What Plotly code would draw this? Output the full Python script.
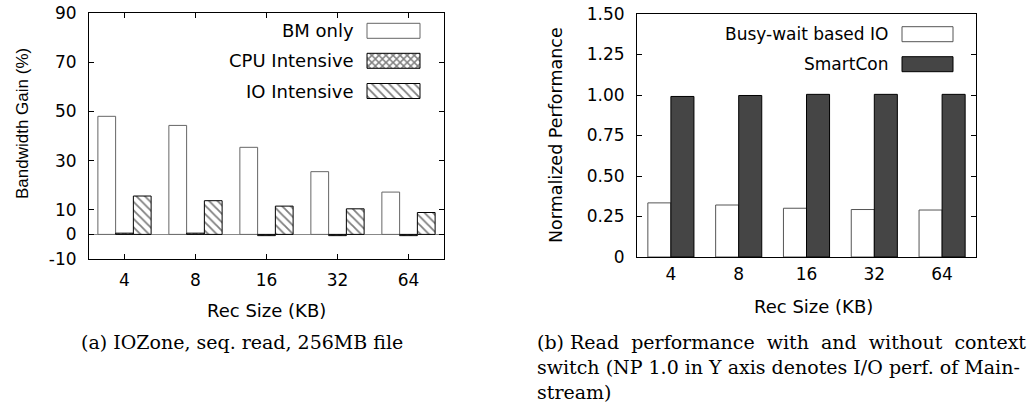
import plotly.graph_objects as go

# ---------------- data ----------------
rec_sizes = ["4", "8", "16", "32", "64"]

bm_only = [48.0, 44.3, 35.4, 25.5, 17.2]
cpu_intensive = [0.5, 0.5, -0.5, -0.5, -0.5]
io_intensive = [15.6, 13.7, 11.5, 10.4, 8.9]

busy_wait = [0.334, 0.321, 0.301, 0.293, 0.290]
smartcon = [0.991, 0.997, 1.004, 1.004, 1.004]

left_yticks = [-10, 0, 10, 30, 50, 70, 90]
left_yticktext = ["-10", "0", "10", "30", "50", "70", "90"]
right_yticks = [0, 0.25, 0.5, 0.75, 1.0, 1.25, 1.5]
right_yticktext = ["0", "0.25", "0.50", "0.75", "1.00", "1.25", "1.50"]

left_legend = ["BM only", "CPU Intensive", "IO Intensive"]
right_legend = ["Busy-wait based IO", "SmartCon"]

caption_a = "(a) IOZone, seq. read, 256MB file"
caption_b = ["(b) Read\u00a0 performance\u00a0 with\u00a0 and\u00a0 without\u00a0 context",
             "switch (NP 1.0 in Y axis denotes I/O perf. of Main-",
             "stream)"]

# ---------------- layout helpers ----------------
W, H = 1034, 406


def px(x):
    return x / W


def py(y):
    return 1 - y / H


SANS = "DejaVu Sans"
SERIF = "DejaVu Serif"

L_X = (89, 444)
L_Y = (13, 259)
R_X = (637, 976)
R_Y = (14, 257)

style_bm = dict(color="white", line=dict(color="#666666", width=1))
style_cpu = dict(color="white", line=dict(color="black", width=1),
                 pattern=dict(shape="x", fgcolor="black", bgcolor="white",
                              size=5, solidity=0.5, fillmode="overlay"))
style_io = dict(color="white", line=dict(color="black", width=1),
                pattern=dict(shape="\\", fgcolor="black", bgcolor="white",
                             size=6, solidity=0.3, fillmode="overlay"))
style_busy = dict(color="white", line=dict(color="#555555", width=1))
style_smart = dict(color="#111111", line=dict(color="black", width=1),
                   pattern=dict(shape=".", fgcolor="white", bgcolor="#111111",
                                size=2, solidity=0.5, fillmode="overlay"))

fig = go.Figure()

# left chart bars
for vals, st, off in [(bm_only, style_bm, -0.375),
                      (cpu_intensive, style_cpu, -0.125),
                      (io_intensive, style_io, 0.125)]:
    fig.add_trace(go.Bar(x=rec_sizes, y=vals, width=0.25, offset=off,
                         marker=st, xaxis="x", yaxis="y", showlegend=False,
                         hoverinfo="skip"))

# right chart bars
for vals, st, off in [(busy_wait, style_busy, -0.34),
                      (smartcon, style_smart, 0.0)]:
    fig.add_trace(go.Bar(x=rec_sizes, y=vals, width=0.34, offset=off,
                         marker=st, xaxis="x2", yaxis="y2", showlegend=False,
                         hoverinfo="skip"))

# legend keys (gnuplot style: text then swatch) drawn on pixel-unit helper axes
left_rows = [30.8, 60.8, 91.0]
for row, st in zip(left_rows, [style_bm, style_cpu, style_io]):
    fig.add_trace(go.Bar(orientation="h", y=[row], x=[53], base=[367], width=15,
                         marker=st, xaxis="x3", yaxis="y3", showlegend=False,
                         hoverinfo="skip"))
right_rows = [34.2, 64.2]
for row, st in zip(right_rows, [style_busy, style_smart]):
    fig.add_trace(go.Bar(orientation="h", y=[row], x=[51], base=[902], width=15,
                         marker=st, xaxis="x4", yaxis="y4", showlegend=False,
                         hoverinfo="skip"))

axis_common = dict(showline=True, linecolor="black", linewidth=1,
                   mirror="allticks", showgrid=False, zeroline=False,
                   automargin=False,
                   tickcolor="black", ticklen=5, tickwidth=1,
                   tickfont=dict(family=SANS, size=17, color="black"))
hidden = dict(visible=False, fixedrange=True, automargin=False)

fig.update_layout(
    template="none",
    width=W, height=H, autosize=False,
    margin=dict(l=0, r=0, t=0, b=0, pad=0),
    paper_bgcolor="white", plot_bgcolor="rgba(0,0,0,0)",
    barmode="group", showlegend=False,
    xaxis=dict(domain=[px(L_X[0]), px(L_X[1])], type="category",
               range=[-0.5, 4.5], ticks="inside", ticklabelstandoff=6,
               anchor="y", **axis_common),
    yaxis=dict(domain=[py(L_Y[1]), py(L_Y[0])], range=[-10, 90],
               tickvals=left_yticks, ticktext=left_yticktext,
               ticks="inside", ticklabelstandoff=8, anchor="x",
               **{**axis_common, "zeroline": True}, zerolinecolor="#888888",
               zerolinewidth=1),
    xaxis2=dict(domain=[px(R_X[0]), px(R_X[1])], type="category",
                range=[-0.5, 4.5], ticks="", ticklabelstandoff=2,
                anchor="y2", **axis_common),
    yaxis2=dict(domain=[py(R_Y[1]), py(R_Y[0])], range=[0, 1.5],
                tickvals=right_yticks, ticktext=right_yticktext,
                ticks="inside", ticklabelstandoff=8, anchor="x2",
                **axis_common),
    xaxis3=dict(domain=[px(L_X[0]), px(L_X[1])], range=list(L_X),
                anchor="y3", **hidden),
    yaxis3=dict(domain=[py(L_Y[1]), py(L_Y[0])], range=[L_Y[1], L_Y[0]],
                anchor="x3", **hidden),
    xaxis4=dict(domain=[px(R_X[0]), px(R_X[1])], range=list(R_X),
                anchor="y4", **hidden),
    yaxis4=dict(domain=[py(R_Y[1]), py(R_Y[0])], range=[R_Y[1], R_Y[0]],
                anchor="x4", **hidden),
)

ann = []


def text(x, y, s, size, family=SANS, xanchor="center", angle=0):
    ann.append(dict(x=px(x), y=py(y), xref="paper", yref="paper", text=s,
                    showarrow=False, xanchor=xanchor, yanchor="middle",
                    textangle=angle, borderpad=0,
                    font=dict(family=family, size=size, color="black")))


# axis titles
text(22, 124, "Bandwidth Gain (%)", 17, family="Liberation Sans", angle=-90)
text(266, 310, "Rec Size (KB)", 18)
text(556, 135, "Normalized Performance", 17.5, angle=-90)
text(813, 306, "Rec Size (KB)", 18)

# legend texts
for row, s in zip(left_rows, left_legend):
    text(355, row, s, 18, xanchor="right")
for row, s in zip(right_rows, right_legend):
    text(889, row, s, 17, xanchor="right")

# captions
text(80, 342, caption_a, 19, family=SERIF, xanchor="left")
for i, line in enumerate(caption_b):
    text(536, 342 + 25 * i, line, 19, family=SERIF, xanchor="left")

fig.update_layout(annotations=ann)

fig.write_html("out.html")
